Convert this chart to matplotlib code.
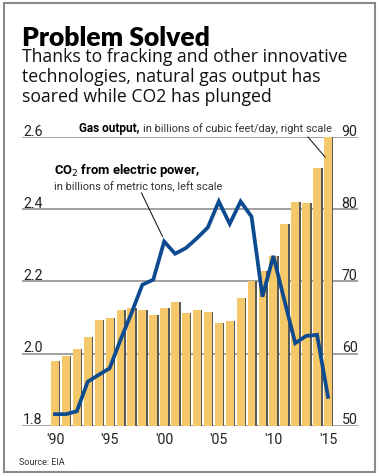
import matplotlib.pyplot as plt
from matplotlib.patches import Rectangle

years = list(range(1990, 2016))
gas_output = [59.0, 59.6, 60.7, 62.3, 64.7, 65.0, 66.1, 66.3, 66.1, 65.4,
              66.3, 67.1, 65.6, 66.1, 65.8, 64.3, 64.5, 67.7, 70.1, 71.4,
              73.5, 78.0, 81.0, 80.9, 85.8, 90.0]
co2 = [1.832, 1.832, 1.840, 1.922, 1.941, 1.959, 2.038, 2.112, 2.191, 2.205,
       2.311, 2.277, 2.293, 2.320, 2.350, 2.422, 2.360, 2.422, 2.380, 2.158,
       2.271, 2.149, 2.029, 2.049, 2.052, 1.880]
left_ticks = [1.8, 2.0, 2.2, 2.4, 2.6]
right_ticks = [50, 60, 70, 80, 90]
xtick_years = [1990, 1995, 2000, 2005, 2010, 2015]
xtick_labels = ["'90", "'95", "'00", "'05", "'10", "'15"]

# narrow-ish face for the chart labels
NF = dict(family=['Roboto', 'DejaVu Sans'])

W, H = 380, 476
fig = plt.figure(figsize=(3.8, 4.76), dpi=100)
renderer = fig.canvas.get_renderer()


def px(x, y):
    # pixel position from top-left -> figure fraction
    return x / W, 1 - y / H


def fit(t, width):
    # scale the font so the text spans `width` pixels
    w = t.get_window_extent(renderer).width
    t.set_fontsize(t.get_fontsize() * width / w)
    return t


ax = fig.add_axes([22/W, 1 - 425.7/H, 336/W, 288.4/H])
ax.set_xlim(1986.98, 2017.75)
ax.set_ylim(1.8, 2.6)

for t in left_ticks:
    ax.axhline(t, color='#9a9a9a', lw=1.3, zorder=1)
    ax.text(1987.1, t + 0.004, f'{t:.1f}', ha='left', va='baseline',
            fontsize=10.2, color='#222222', **NF)
for t, lt in zip(right_ticks, left_ticks):
    ax.text(2017.7, lt + 0.004, str(t), ha='right', va='baseline',
            fontsize=10.2, color='#222222', **NF)

# gas output bars on the right scale
ax2 = ax.twinx()
ax2.set_ylim(50, 90)
ax2.set_axis_off()
shadow_x = [y + 0.13 for y in years]
ax2.bar(shadow_x, [g - 50 for g in gas_output], bottom=50, width=0.74,
        color='#5a5a5a', zorder=2)
ax2.bar(years, [g - 50 for g in gas_output], bottom=50, width=0.72,
        color='#f5c869', edgecolor='none', zorder=3)
ax2.plot(years, [50 + (c - 1.8) * 50 for c in co2], color='#0d4a8f',
         lw=2.7, solid_joinstyle='miter', zorder=5)

for s in ax.spines.values():
    s.set_visible(False)
ax.set_yticks([])
ax.set_xticks(xtick_years)
ax.set_xticklabels(xtick_labels, fontsize=10.2, color='#222222', **NF)
ax.tick_params(axis='x', length=0, pad=5)

# labels
t = fig.text(*px(79, 132), 'Gas output,', fontsize=9.5, fontweight='bold',
             va='baseline', ha='left', **NF)
fit(t, 61)
t = fig.text(*px(143, 132), 'in billions of cubic feet/day, right scale',
             fontsize=9, va='baseline', ha='left', color='#333333', **NF)
fit(t, 189)
fig.add_artist(plt.Line2D(*zip(px(308, 137), px(325, 157)),
                          color='#222222', lw=0.8))
t = fig.text(*px(54, 174), 'CO$_2$ from electric power,', fontsize=10,
             fontweight='bold', va='baseline', ha='left', **NF)
fit(t, 146)
t = fig.text(*px(54, 190), 'in billions of metric tons, left scale',
             fontsize=9, va='baseline', ha='left', color='#333333', **NF)
fit(t, 168)
fig.add_artist(plt.Line2D(*zip(px(141.5, 193), px(162.5, 236.5)),
                          color='#222222', lw=0.8))

t = fig.text(*px(22, 46), 'Problem Solved', fontsize=19, fontweight='heavy',
             family=['Lato', 'DejaVu Sans'], va='baseline', ha='left')
fit(t, 188)
sub_lines = ['Thanks to fracking and other innovative',
             'technologies, natural gas output has',
             'soared while CO2 has plunged']
for i, line in enumerate(sub_lines):
    t = fig.text(*px(22, 62 + 20 * i), line, fontsize=12, va='baseline',
                 ha='left', color='#111111', family=['Open Sans', 'DejaVu Sans'])
    if i == 0:
        fit(t, 323)
        sub_fs = t.get_fontsize()
    else:
        t.set_fontsize(sub_fs)
t = fig.text(*px(19, 465), 'Source: EIA', fontsize=8, va='baseline',
             ha='left', color='#333333', **NF)
fit(t, 46)

fig.add_artist(Rectangle((4/W, 4/H), 371/W, 469/H, fill=False,
                         edgecolor='#8a8a8a', lw=1.5, transform=fig.transFigure))

fig.savefig('out.png', dpi=100)
